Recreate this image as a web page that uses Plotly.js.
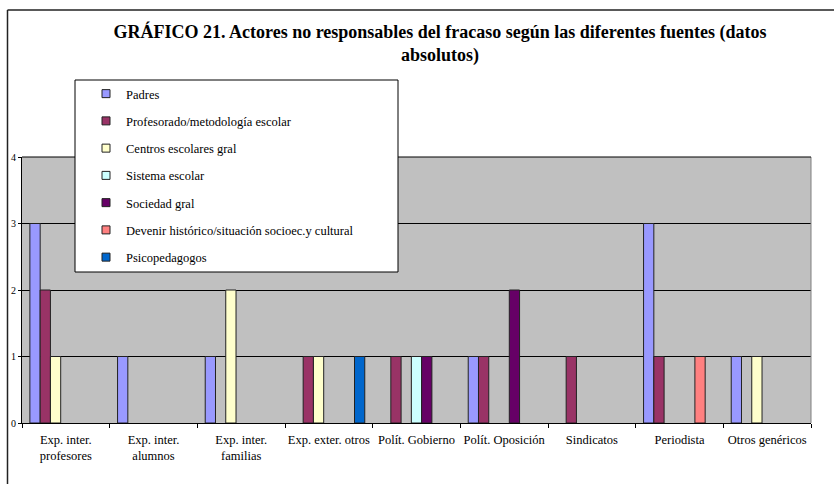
<!DOCTYPE html>
<html>
<head>
<meta charset="utf-8">
<script src="https://cdn.plot.ly/plotly-3.0.1.min.js"></script>
<style>
  html, body { margin: 0; padding: 0; background: #fff; }
  #chart { width: 834px; height: 484px; }
</style>
</head>
<body>
<div id="chart"></div>
<script>
// Categories (x axis)
const categories = [
  "Exp. inter.<br>profesores",
  "Exp. inter.<br>alumnos",
  "Exp. inter.<br>familias",
  "Exp. exter. otros",
  "Polít. Gobierno",
  "Polít. Oposición",
  "Sindicatos",
  "Periodista",
  "Otros genéricos"
];

// Series names
const seriesNames = [
  "Padres",
  "Profesorado/metodología escolar",
  "Centros escolares gral",
  "Sistema escolar",
  "Sociedad gral",
  "Devenir histórico/situación socioec.y cultural",
  "Psicopedagogos"
];

// Series values (absolute counts per category)
const padres         = [3, 1, 1, 0, 0, 1, 0, 3, 1];
const profesorado    = [2, 0, 0, 1, 1, 1, 1, 1, 0];
const centros        = [1, 0, 2, 1, 0, 0, 0, 0, 1];
const sistema        = [0, 0, 0, 0, 1, 0, 0, 0, 0];
const sociedad       = [0, 0, 0, 0, 1, 2, 0, 0, 0];
const devenir        = [0, 0, 0, 0, 0, 0, 0, 1, 0];
const psicopedagogos = [0, 0, 0, 1, 0, 0, 0, 0, 0];

const seriesValues = [padres, profesorado, centros, sistema, sociedad, devenir, psicopedagogos];
const seriesColors = ["#9999FF", "#993366", "#FFFFCC", "#CCFFFF", "#660066", "#FF8080", "#0066CC"];

// Y tick labels
const yTicks = [0, 1, 2, 3, 4];

const FONT = "'Liberation Serif', 'Times New Roman', serif";

const traces = [];
seriesNames.forEach((name, i) => {
  // Bars (zero values are not drawn, as in the original, but keep their slot)
  traces.push({
    type: "bar",
    name: name,
    x: categories,
    y: seriesValues[i].map(v => (v === 0 ? null : v)),
    marker: { color: seriesColors[i], line: { color: "#222", width: 1 } },
    showlegend: false,
    hoverinfo: "x+y+name"
  });
});
seriesNames.forEach((name, i) => {
  // Legend entries with small square keys
  traces.push({
    type: "scatter",
    mode: "markers",
    name: name,
    x: [null],
    y: [null],
    legendgroup: "g" + i,
    marker: { symbol: "square", size: 8, color: seriesColors[i], line: { color: "#222", width: 1 } },
    showlegend: true,
    hoverinfo: "skip"
  });
});

// Plot area pixel geometry helpers
const L = 22, R = 811, T = 157, B = 423;
const px2x = p => (p - L) / (R - L);
const px2y = p => (B - p) / (B - T);

const layout = {
  width: 834,
  height: 484,
  margin: { l: L, r: 834 - R, t: T, b: 484 - B, pad: 0 },
  paper_bgcolor: "#ffffff",
  plot_bgcolor: "#C0C0C0",
  font: { family: FONT, size: 12.5, color: "#000" },
  title: {
    text: "<b>GRÁFICO 21. Actores no responsables del fracaso según las diferentes fuentes (datos<br>absolutos)</b>",
    font: { family: FONT, size: 18, color: "#000" },
    xref: "container",
    x: 440 / 834,
    xanchor: "center",
    yref: "container",
    y: 1 - 38 / 484,
    yanchor: "top"
  },
  barmode: "group",
  bargap: 0.18,
  bargroupgap: 0,
  xaxis: {
    type: "category",
    categoryorder: "array",
    categoryarray: categories,
    tickson: "boundaries",
    tickangle: 0,
    ticks: "outside",
    ticklen: 4,
    tickcolor: "#000",
    tickwidth: 1,
    ticklabelstandoff: 5,
    showline: true,
    linecolor: "#000",
    linewidth: 1,
    showgrid: false,
    zeroline: false,
    tickfont: { family: FONT, size: 12.5, color: "#000" },
    fixedrange: true
  },
  yaxis: {
    range: [0, 4],
    tickvals: yTicks,
    ticktext: yTicks.map(String),
    ticks: "outside",
    ticklen: 3,
    tickcolor: "#000",
    showline: true,
    linecolor: "#000",
    linewidth: 1,
    showgrid: true,
    gridcolor: "#000",
    gridwidth: 1,
    zeroline: false,
    tickfont: { family: FONT, size: 10, color: "#000" },
    fixedrange: true
  },
  showlegend: true,
  legend: {
    x: px2x(86),
    xanchor: "left",
    y: px2y(79),
    yanchor: "top",
    bgcolor: "rgba(0,0,0,0)",
    borderwidth: 0,
    font: { family: FONT, size: 12.5, color: "#000" },
    traceorder: "grouped",
    tracegroupgap: 8,
    itemclick: false,
    itemdoubleclick: false
  },
  shapes: [
    // Plot area right border (gray)
    { type: "line", xref: "paper", yref: "paper", x0: 1, x1: 1, y0: 0, y1: 1,
      line: { color: "#808080", width: 1 }, layer: "above" },
    // Top gridline at 4
    { type: "line", xref: "paper", yref: "paper", x0: 0, x1: 1, y0: 1, y1: 1,
      line: { color: "#000", width: 1 }, layer: "above" },
    // Legend box
    { type: "rect", xref: "paper", yref: "paper",
      x0: px2x(75), x1: px2x(398), y0: px2y(272), y1: px2y(80),
      fillcolor: "#ffffff", line: { color: "#000", width: 1 }, layer: "above" },
    // Outer chart frame (left and top edges)
    { type: "line", xref: "paper", yref: "paper", x0: px2x(7.5), x1: px2x(7.5), y0: px2y(490), y1: px2y(10),
      line: { color: "#222", width: 1.5 }, layer: "above" },
    { type: "line", xref: "paper", yref: "paper", x0: px2x(7.5), x1: px2x(840), y0: px2y(10), y1: px2y(10),
      line: { color: "#222", width: 1.5 }, layer: "above" }
  ]
};

Plotly.newPlot("chart", traces, layout, { displayModeBar: false, staticPlot: true });
</script>
</body>
</html>
